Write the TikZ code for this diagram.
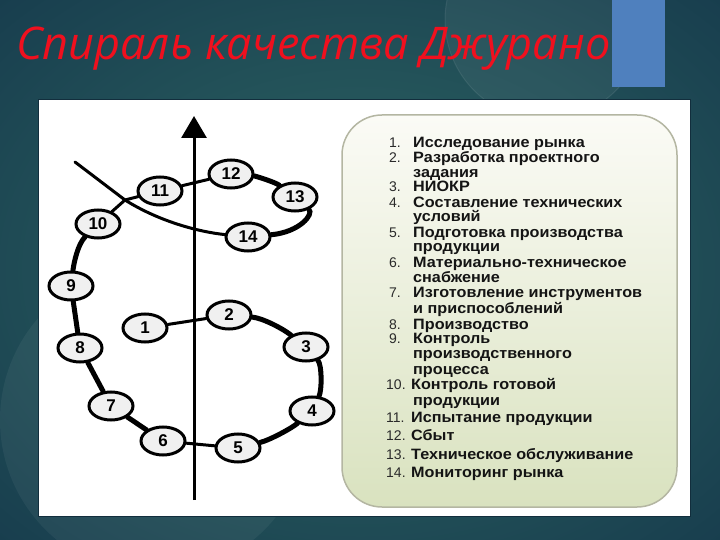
\documentclass[tikz,border=0pt]{standalone}
\usepackage{fontspec}
\setmainfont{Liberation Sans}
\newfontfamily\titlefont{Open Sans}
\newfontfamily\listfont[FakeStretch=1.08]{Liberation Sans}
\usetikzlibrary{shapes.geometric,arrows.meta}
\definecolor{bgdark}{HTML}{163A4C}
\definecolor{bglight}{HTML}{2E6764}
\definecolor{titlered}{HTML}{F0101E}
\definecolor{barblue}{HTML}{4F80BE}
\definecolor{boxtop}{HTML}{FBFBF6}
\definecolor{boxbot}{HTML}{D9E2BF}
\definecolor{boxedge}{HTML}{B4B6A2}
\definecolor{numgray}{HTML}{2A2A2A}
\begin{document}
\begin{tikzpicture}[x=1pt,y=-1pt,
  num/.style={ellipse, draw=black, line width=3pt, fill=black!6, minimum width=44pt, minimum height=28pt, inner sep=0pt, font=\bfseries\fontsize{17}{17}\selectfont},
  thk/.style={line width=5pt, line cap=round},
  mid/.style={line width=3pt, line cap=round},
  itm/.style={anchor=base west, inner sep=0pt, text=black!92, font=\listfont\bfseries\fontsize{15}{15}\selectfont},
  nr/.style={anchor=base west, inner sep=0pt, text=numgray, font=\fontsize{14}{15}\selectfont}]
\useasboundingbox (0,0) rectangle (720,540);
% background
\shade[inner color=bglight, outer color=bgdark] (-200,-150) rectangle (920,690);
\fill[white, opacity=0.05] (545,20) circle (100pt);
\draw[white, opacity=0.08, line width=1pt] (545,20) circle (100pt);
\fill[white, opacity=0.05] (155,420) circle (155pt);
\fill[barblue] (612,0) rectangle (665,87);
\node[anchor=base west, inner sep=0pt, text=titlered, font=\titlefont\itshape\fontsize{45}{50}\selectfont] (title) at (16,60) {Спираль качества Джурано};
% picture area
\draw[fill=white, draw=bgdark!80!black, line width=0.6pt] (38,99) rectangle (690,516);
\draw[rounded corners=40pt, top color=boxtop, bottom color=boxbot, draw=boxedge, line width=1.5pt] (342,115) rectangle (677,507);
% axis
\coordinate (axb) at (194,500);
\coordinate (axt) at (194,116);
\draw[line width=3pt, -{Triangle[width=25pt,length=22pt]}] (axb) -- (axt);
% spiral nodes
\node[num] (n1) at (145,328) {1};
\node[num] (n2) at (229,315) {2};
\node[num] (n3) at (306,347) {3};
\node[num] (n4) at (312,411) {4};
\node[num] (n5) at (238,448) {5};
\node[num] (n6) at (163,441) {6};
\node[num] (n7) at (111,406) {7};
\node[num] (n8) at (80,348) {8};
\node[num] (n9) at (71,286) {9};
\node[num] (n10) at (98,224) {10};
\node[num] (n11) at (160,191) {11};
\node[num] (n12) at (231,174) {12};
\node[num] (n13) at (295,197) {13};
\node[num] (n14) at (248,237) {14};
\coordinate (cx) at (125,200);
\coordinate (tail) at (75,162);
% links
\draw[mid] (n1) -- (n2);
\draw[thk] (n2) .. controls (262,318) and (282,328) .. (n3);
\draw[thk] (n3) .. controls (322,365) and (322,390) .. (n4);
\draw[thk] (n4) .. controls (292,428) and (270,440) .. (n5);
\draw[mid] (n5) -- (n6);
\draw[thk] (n6) -- (n7);
\draw[thk] (n7) -- (n8);
\draw[thk] (n8) -- (n9);
\draw[thk] (n9) .. controls (74,262) and (78,244) .. (n10);
\draw[mid] (n10) -- (cx);
\draw[mid] (cx) -- (n11);
\draw[mid] (n11) -- (n12);
\draw[thk] (n12) .. controls (255,176) and (275,182) .. (n13);
\draw[thk] (n13) .. controls (314,214) and (300,232) .. (n14);
\draw[mid] (n14) .. controls (200,232) and (160,222) .. (cx) -- (tail);
% list
\node[nr] (k1) at (389,148) {1.};   \node[itm] (l1) at (413,148) {Исследование рынка};
\node[nr] (k2) at (389,163) {2.};   \node[itm] (l2) at (413,163) {Разработка проектного};
\node[itm] (l2b) at (413,177.5) {задания};
\node[nr] (k3) at (389,192) {3.}; \node[itm] (l3) at (413,192) {НИОКР};
\node[nr] (k4) at (389,207.5) {4.};   \node[itm] (l4) at (413,207.5) {Составление технических};
\node[itm] (l4b) at (413,221.5) {условий};
\node[nr] (k5) at (389,237) {5.};   \node[itm] (l5) at (413,237) {Подготовка производства};
\node[itm] (l5b) at (413,251.5) {продукции};
\node[nr] (k6) at (389,267) {6.};   \node[itm] (l6) at (413,267) {Материально-техническое};
\node[itm] (l6b) at (413,282) {снабжение};
\node[nr] (k7) at (389,297.5) {7.}; \node[itm] (l7) at (413,297.5) {Изготовление инструментов};
\node[itm] (l7b) at (413,313) {и приспособлений};
\node[nr] (k8) at (389,329) {8.};   \node[itm] (l8) at (413,329) {Производство};
\node[nr] (k9) at (389,343.5) {9.}; \node[itm] (l9) at (413,343.5) {Контроль};
\node[itm] (l9b) at (413,358.5) {производственного};
\node[itm] (l9c) at (413,374) {процесса};
\node[nr] (k10) at (386,389.5) {10.}; \node[itm] (l10) at (411,389.5) {Контроль готовой};
\node[itm] (l10b) at (413,405) {продукции};
\node[nr] (k11) at (386,422.5) {11.}; \node[itm] (l11) at (411,422.5) {Испытание продукции};
\node[nr] (k12) at (386,440.5) {12.}; \node[itm] (l12) at (411,440.5) {Сбыт};
\node[nr] (k13) at (386,459) {13.}; \node[itm] (l13) at (411,459) {Техническое обслуживание};
\node[nr] (k14) at (386,477) {14.}; \node[itm] (l14) at (411,477) {Мониторинг рынка};
\end{tikzpicture}
\end{document}
